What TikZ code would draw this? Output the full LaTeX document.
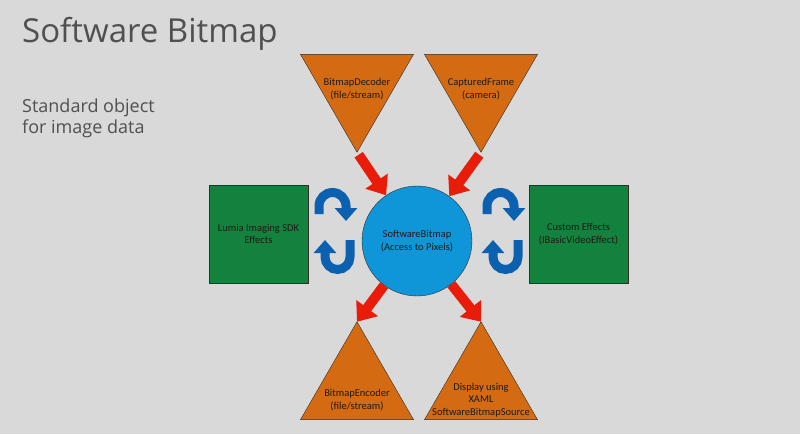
\documentclass[tikz,border=0pt]{standalone}
\usepackage{fontspec}
\setmainfont{Carlito}
\newfontfamily\slidefont{Open Sans}
\usepackage{xcolor}
\usepackage{tikz}
\usetikzlibrary{arrows.meta,shapes.geometric}
\definecolor{SlideGray}{RGB}{217,217,217}
\definecolor{TitleGray}{RGB}{80,80,80}
\definecolor{TriOrange}{RGB}{212,106,18}
\definecolor{SqGreen}{RGB}{18,130,62}
\definecolor{CircBlue}{RGB}{14,150,216}
\definecolor{ArrRed}{RGB}{232,28,8}
\definecolor{CycBlue}{RGB}{12,96,176}
\definecolor{EdgeDark}{RGB}{50,45,40}
\definecolor{LabelInk}{RGB}{30,25,20}

\begin{document}
\begin{tikzpicture}[x=1pt,y=-1pt,
    tri/.style={regular polygon,regular polygon sides=3,minimum size=130.5pt,inner sep=0pt,outer sep=0pt,draw=EdgeDark,fill=TriOrange},
    sq/.style={rectangle,minimum width=99pt,minimum height=98pt,draw=EdgeDark,fill=SqGreen,align=center,font=\lbl,text=LabelInk},
    lbl/.style={align=center,font=\lbl,text=LabelInk,inner sep=0pt},
    flow/.style={draw=ArrRed,line width=10pt,-{Triangle[width=26pt,length=17pt]}},
    cyc/.style={draw=CycBlue,line width=9pt,-{Triangle[width=22pt,length=13pt]}}]
        \def\lbl{\fontsize{10.5}{12.5}\selectfont}
        \fill[SlideGray] (0,0) rectangle (800,434);
        \useasboundingbox (0,0) rectangle (800,434);
        % heading
        \node[anchor=base west,inner sep=0pt,font=\slidefont\fontsize{33}{38}\selectfont,text=TitleGray] (title)
          at (22,42) {Software Bitmap};
        \node[anchor=north west,inner sep=0pt,align=left,font=\slidefont\fontsize{18}{21}\selectfont,text=TitleGray] (subtitle)
          at (22,99) {Standard object\\for image data};
        % centre and sides
        \node[circle,minimum size=110pt,draw=EdgeDark,fill=CircBlue,align=center,font=\lbl,text=LabelInk] (bmp)
          at (417,241) {SoftwareBitmap\\(Access to Pixels)};
        \node[sq] (lumia) at (258.5,234) {Lumia Imaging SDK\\Effects};
        \node[sq] (custom) at (578.5,234) {Custom Effects\\(IBasicVideoEffect)};
        % sources
        \node[tri,regular polygon rotate=180] (dec) at (357,87) {};
        \node[lbl] (dec-txt) at (357,89) {BitmapDecoder\\(file/stream)};
        \node[tri,regular polygon rotate=180] (cap) at (481,87) {};
        \node[lbl] (cap-txt) at (481,89) {CapturedFrame\\(camera)};
        % sinks
        \node[tri] (enc) at (357,387) {};
        \node[lbl] (enc-txt) at (357,400) {BitmapEncoder\\(file/stream)};
        \node[tri] (disp) at (481,387) {};
        \node[lbl] (disp-txt) at (481,400) {Display using\\XAML\\SoftwareBitmapSource};
        % red flows
        \draw[flow,shorten <=3pt] (dec.corner 1) -- (bmp);
        \draw[flow,shorten <=3pt] (cap.corner 1) -- (bmp);
        \draw[flow] (bmp) -- (enc.corner 1);
        \draw[flow] (bmp) -- (disp.corner 1);
        % effect loops
        \draw[cyc] (319,214) -- (319,206) arc[start angle=180,end angle=360,radius=13.5] -- (346,221);
        \draw[cyc] (350,240) -- (350,257) arc[start angle=0,end angle=180,radius=12.5] -- (325,240);
        \draw[cyc] (487,214) -- (487,206) arc[start angle=180,end angle=360,radius=13.5] -- (514,221);
        \draw[cyc] (518,240) -- (518,257) arc[start angle=0,end angle=180,radius=12.5] -- (493,240);
      \end{tikzpicture}
\end{document}
